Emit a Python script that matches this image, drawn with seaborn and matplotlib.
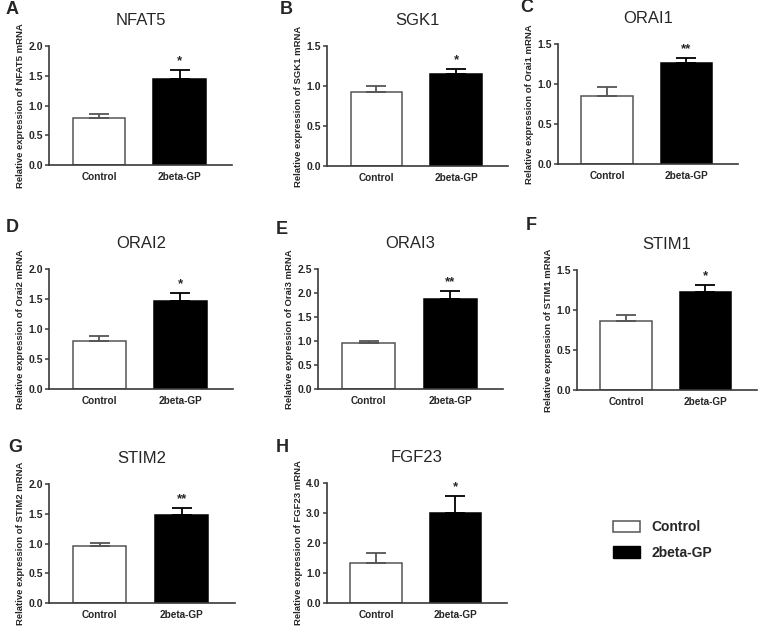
import matplotlib
matplotlib.use("Agg")
import matplotlib.pyplot as plt
import matplotlib.patches as mpatches
import seaborn as sns
import pandas as pd

# valores (media e erro padrao, so para cima)
painel = ['A', 'B', 'C', 'D', 'E', 'F', 'G', 'H']
genes = ['NFAT5', 'SGK1', 'ORAI1', 'ORAI2', 'ORAI3', 'STIM1', 'STIM2', 'FGF23']
nomes_eixo = ['NFAT5', 'SGK1', 'Orai1', 'Orai2', 'Orai3', 'STIM1', 'STIM2', 'FGF23']
grupos = ['Control', '2beta-GP']
controle_media = [0.79, 0.93, 0.85, 0.80, 0.95, 0.86, 0.95, 1.32]
controle_erro = [0.07, 0.07, 0.11, 0.08, 0.06, 0.08, 0.06, 0.36]
gp_media = [1.45, 1.15, 1.26, 1.46, 1.87, 1.23, 1.48, 2.99]
gp_erro = [0.15, 0.06, 0.06, 0.14, 0.17, 0.08, 0.11, 0.59]
estrelas = ['*', '*', '**', '*', '**', '*', '**', '*']
y_max = [2.0, 1.5, 1.5, 2.0, 2.5, 1.5, 2.0, 4.0]
y_passo = [0.5, 0.5, 0.5, 0.5, 0.5, 0.5, 0.5, 1.0]

sns.set_theme(style="ticks")
plt.rcParams['font.family'] = ['Liberation Sans', 'DejaVu Sans']

fig = plt.figure(figsize=(7.58, 6.28), dpi=100)

# posicao de cada painel em pixels: esquerda, topo, direita, base
caixas = [(49, 46, 232, 165), (327, 46, 508, 166), (558, 44, 738, 164),
          (49, 269, 233, 389), (318, 269, 503, 389), (577, 270, 757, 390),
          (49, 484, 235, 603), (327, 483, 507, 603)]
# posicao das letras dos paineis (pixels)
letras_xy = [(6, 9), (280, 9), (520, 8), (6, 228), (276, 230), (526, 226),
             (8, 447), (276, 447)]

cor_eixo = '#3a3a3a'
for i in range(8):
    l, t, r, b = caixas[i]
    ax = fig.add_axes([l / 758, 1 - b / 628, (r - l) / 758, (b - t) / 628])
    df = pd.DataFrame({'grupo': grupos, 'valor': [controle_media[i], gp_media[i]]})
    sns.barplot(data=df, x='grupo', y='valor', hue='grupo', palette=['white', 'black'],
                width=0.65, legend=False, ax=ax, linewidth=1.1)
    cores_borda = ['#555555', 'black']
    for p, c in zip(ax.patches, cores_borda):
        p.set_edgecolor(c)
    erros = [controle_erro[i], gp_erro[i]]
    medias = [controle_media[i], gp_media[i]]
    for x, (m, e, c) in enumerate(zip(medias, erros, cores_borda)):
        ax.errorbar(x, m, yerr=[[0], [e]], fmt='none', ecolor=c, elinewidth=1.3,
                    capsize=7, capthick=1.3, zorder=1)
    # asterisco acima do erro do grupo tratado
    ax.annotate(estrelas[i], (1, gp_media[i] + gp_erro[i]), xytext=(0, 2),
                textcoords='offset points', ha='center', va='bottom',
                fontsize=9.5, fontweight='bold')
    ax.set_ylim(0, y_max[i])
    ticks = [k * y_passo[i] for k in range(int(round(y_max[i] / y_passo[i])) + 1)]
    ax.set_yticks(ticks)
    ax.set_yticklabels([f'{v:.1f}' for v in ticks])
    ax.set_xlim(-0.62, 1.65)
    ax.set_xlabel('')
    ax.set_ylabel(f'Relative expression of {nomes_eixo[i]} mRNA', fontsize=6.8,
                  fontweight='bold', labelpad=2)
    ax.tick_params(axis='y', length=3, width=1.1, color=cor_eixo, labelsize=7.5, pad=1.5)
    ax.tick_params(axis='x', length=0, labelsize=7.2, pad=5)
    for lab in ax.get_xticklabels() + ax.get_yticklabels():
        lab.set_fontweight('bold')
    sns.despine(ax=ax)
    for s in ['left', 'bottom']:
        ax.spines[s].set_color(cor_eixo)
        ax.spines[s].set_linewidth(1.2)
    ax.set_title(genes[i], fontsize=12, pad=15)
    lx, ly = letras_xy[i]
    fig.text(lx / 758, 1 - ly / 628, painel[i], fontsize=13,
             fontweight='bold', va='center', ha='left')

# legenda no canto inferior direito
alcas = [mpatches.Patch(facecolor='white', edgecolor='#555555', linewidth=1.1, label='Control'),
         mpatches.Patch(facecolor='black', edgecolor='black', label='2beta-GP')]
fig.legend(handles=alcas, loc='center left', bbox_to_anchor=(600 / 758, 1 - 540 / 628),
           frameon=False, prop={'weight': 'bold', 'size': 10}, handlelength=2.0,
           handleheight=0.9, labelspacing=0.8, handletextpad=0.8)

fig.savefig('out.png', dpi=100)
